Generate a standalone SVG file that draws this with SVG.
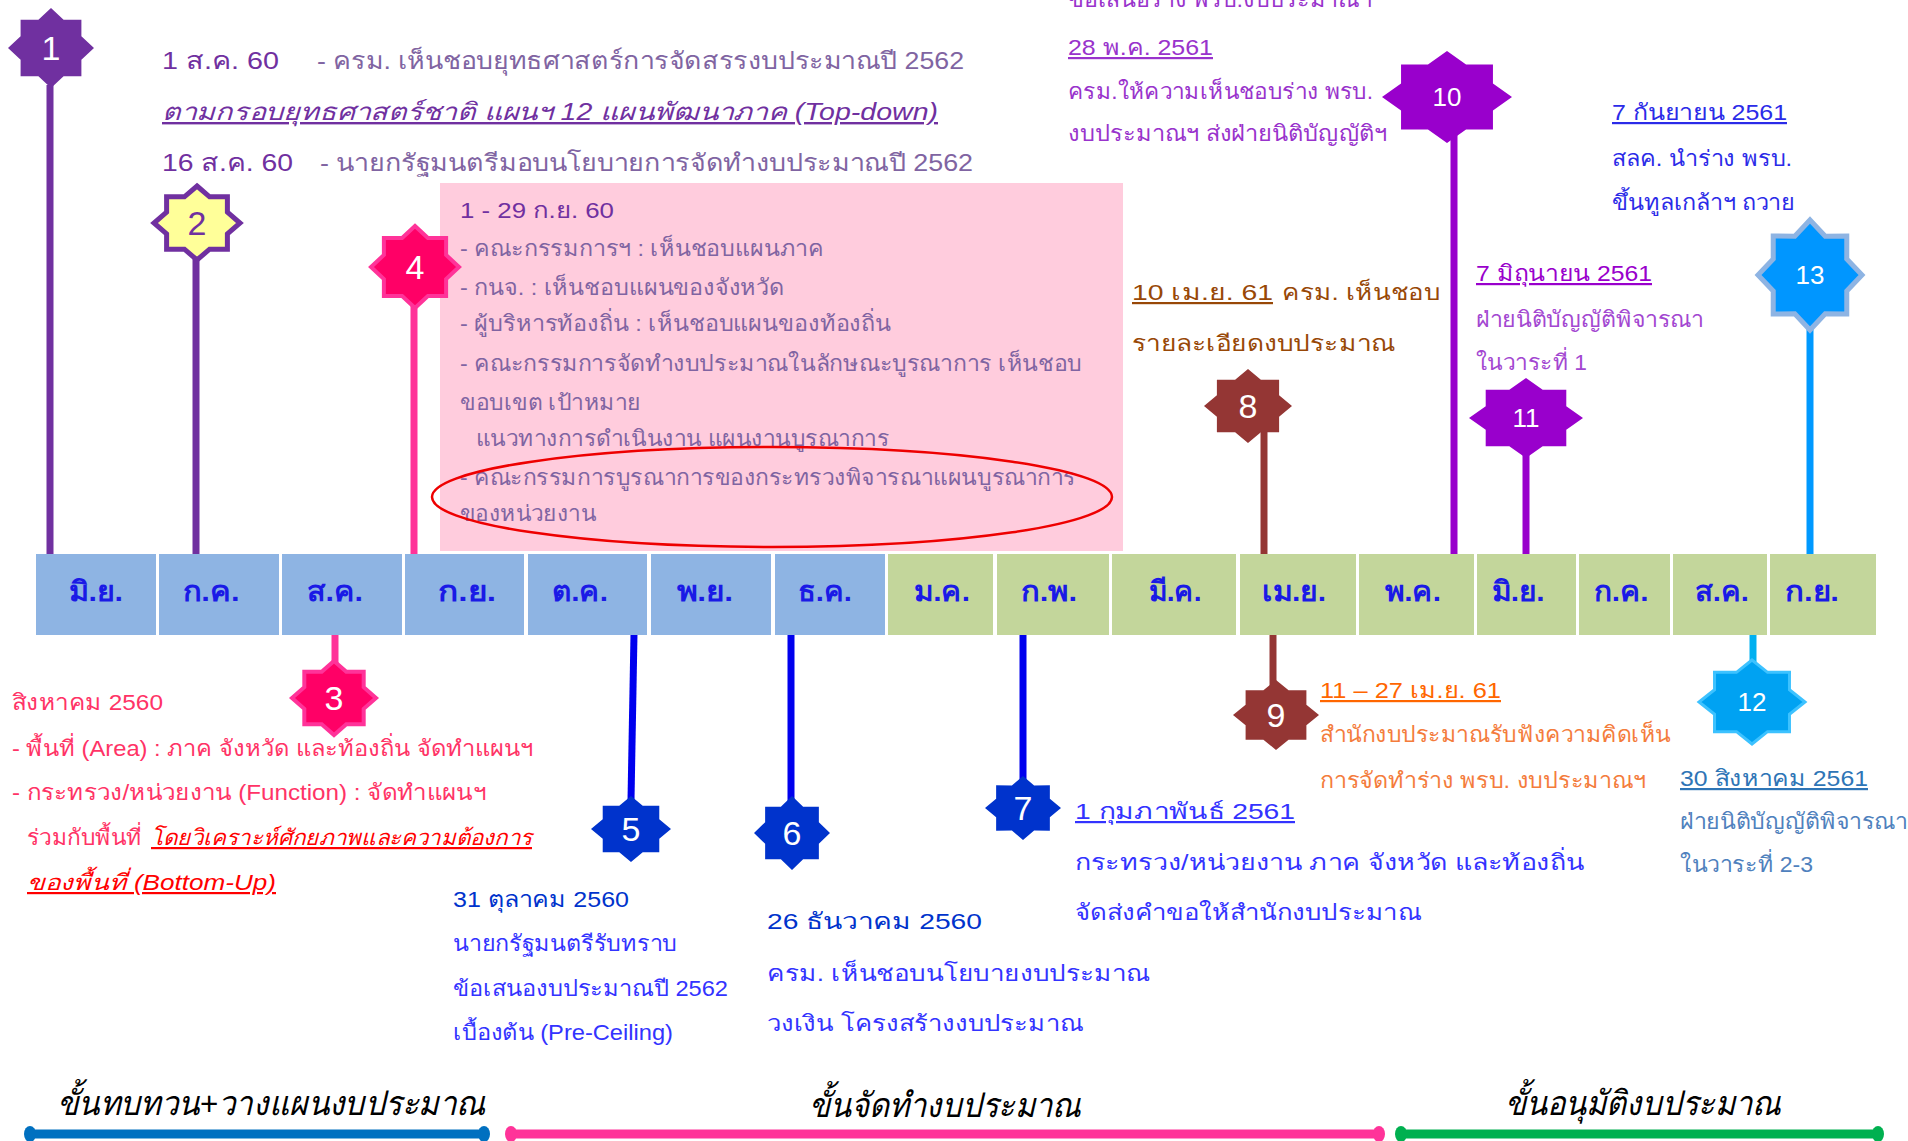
<svg xmlns="http://www.w3.org/2000/svg" xmlns:xlink="http://www.w3.org/1999/xlink" width="1908" height="1141" viewBox="0 0 1908 1141">
<style>
text{font-family:"Liberation Sans","Noto Sans",sans-serif;}
.n{font-size:34px;fill:#fff;text-anchor:middle;}
.n2{font-size:26px;fill:#fff;text-anchor:middle;}
.m{font-size:28px;font-weight:bold;fill:#1a1ae6;text-anchor:middle;}
.tb{font-size:24px;}
.pb{font-size:22px;fill:#8064a2;}
.c{font-size:22px;}
.u{text-decoration:underline;}
.ph{font-size:34px;font-style:italic;fill:#000;}
.con{stroke-width:7;fill:none;}
</style>
<defs>
<polygon id="s8" vector-effect="non-scaling-stroke" points="0,-1 0.2928,-0.7068 0.7071,-0.7071 0.7068,-0.2928 1,0 0.7068,0.2928 0.7071,0.7071 0.2928,0.7068 0,1 -0.2928,0.7068 -0.7071,0.7071 -0.7068,0.2928 -1,0 -0.7068,-0.2928 -0.7071,-0.7071 -0.2928,-0.7068"/>
</defs>
<rect width="1908" height="1141" fill="#fff"/>

<g id="box4">
<rect x="440" y="183" width="683" height="368" fill="#ffccdd"/>
<text class="pb" x="460" y="218" textLength="154" lengthAdjust="spacingAndGlyphs" fill="#7030a0" style="fill:#7030a0">1 - 29 ก.ย. 60</text>
<text class="pb" x="460" y="256" textLength="364" lengthAdjust="spacingAndGlyphs">- คณะกรรมการฯ : เห็นชอบแผนภาค</text>
<text class="pb" x="460" y="295" textLength="324" lengthAdjust="spacingAndGlyphs">- กนจ. : เห็นชอบแผนของจังหวัด</text>
<text class="pb" x="460" y="331" textLength="431" lengthAdjust="spacingAndGlyphs">- ผู้บริหารท้องถิ่น : เห็นชอบแผนของท้องถิ่น</text>
<text class="pb" x="460" y="371" textLength="622" lengthAdjust="spacingAndGlyphs">- คณะกรรมการจัดทำงบประมาณในลักษณะบูรณาการ เห็นชอบ</text>
<text class="pb" x="460" y="410" textLength="181" lengthAdjust="spacingAndGlyphs">ขอบเขต เป้าหมาย</text>
<text class="pb" x="476" y="446" textLength="413" lengthAdjust="spacingAndGlyphs">แนวทางการดำเนินงาน แผนงานบูรณาการ</text>
<text class="pb" x="460" y="485" textLength="616" lengthAdjust="spacingAndGlyphs">- คณะกรรมการบูรณาการของกระทรวงพิจารณาแผนบูรณาการ</text>
<text class="pb" x="460" y="521" textLength="136" lengthAdjust="spacingAndGlyphs">ของหน่วยงาน</text>
<ellipse cx="772" cy="497" rx="340" ry="50" fill="none" stroke="#ee0000" stroke-width="2.5"/>
</g>

<g id="connectors">
<line class="con" x1="50" y1="85" x2="50" y2="556" stroke="#7030a0"/>
<line class="con" x1="196" y1="250" x2="196" y2="556" stroke="#7030a0"/>
<line class="con" x1="414" y1="300" x2="414" y2="558" stroke="#ff3399"/>
<line class="con" x1="335" y1="633" x2="335" y2="670" stroke="#ff3399"/>
<line class="con" x1="634" y1="634" x2="631" y2="800" stroke="#0000ee" stroke-width="6"/>
<line class="con" x1="791" y1="634" x2="791" y2="805" stroke="#0000ee" stroke-width="6"/>
<line class="con" x1="1023" y1="634" x2="1023" y2="785" stroke="#0000ee" stroke-width="6"/>
<line class="con" x1="1264" y1="430" x2="1264" y2="558" stroke="#943634"/>
<line class="con" x1="1273" y1="634" x2="1273" y2="690" stroke="#943634"/>
<line class="con" x1="1454" y1="130" x2="1454" y2="556" stroke="#9900cc" stroke-width="8"/>
<line class="con" x1="1526" y1="450" x2="1526" y2="556" stroke="#9900cc"/>
<line class="con" x1="1753" y1="634" x2="1753" y2="670" stroke="#00b0f0"/>
<line class="con" x1="1810" y1="320" x2="1810" y2="556" stroke="#0099ff" stroke-width="8"/>
</g>

<g id="months">
<rect x="36" y="554" width="120" height="81" fill="#8eb4e3"/>
<rect x="159" y="554" width="120" height="81" fill="#8eb4e3"/>
<rect x="282" y="554" width="120" height="81" fill="#8eb4e3"/>
<rect x="405" y="554" width="119" height="81" fill="#8eb4e3"/>
<rect x="528" y="554" width="119" height="81" fill="#8eb4e3"/>
<rect x="651" y="554" width="120" height="81" fill="#8eb4e3"/>
<rect x="775" y="554" width="110" height="81" fill="#8eb4e3"/>
<rect x="888" y="554" width="105" height="81" fill="#c3d69b"/>
<rect x="997" y="554" width="112" height="81" fill="#c3d69b"/>
<rect x="1112" y="554" width="124" height="81" fill="#c3d69b"/>
<rect x="1240" y="554" width="116" height="81" fill="#c3d69b"/>
<rect x="1359" y="554" width="115" height="81" fill="#c3d69b"/>
<rect x="1477" y="554" width="99" height="81" fill="#c3d69b"/>
<rect x="1579" y="554" width="91" height="81" fill="#c3d69b"/>
<rect x="1673" y="554" width="94" height="81" fill="#c3d69b"/>
<rect x="1770" y="554" width="106" height="81" fill="#c3d69b"/>
<text class="m" x="96" y="601" textLength="54" lengthAdjust="spacingAndGlyphs">มิ.ย.</text>
<text class="m" x="211" y="601" textLength="57" lengthAdjust="spacingAndGlyphs">ก.ค.</text>
<text class="m" x="335" y="601" textLength="56" lengthAdjust="spacingAndGlyphs">ส.ค.</text>
<text class="m" x="467" y="601" textLength="58" lengthAdjust="spacingAndGlyphs">ก.ย.</text>
<text class="m" x="580" y="601" textLength="56" lengthAdjust="spacingAndGlyphs">ต.ค.</text>
<text class="m" x="705" y="601" textLength="56" lengthAdjust="spacingAndGlyphs">พ.ย.</text>
<text class="m" x="825" y="601" textLength="54" lengthAdjust="spacingAndGlyphs">ธ.ค.</text>
<text class="m" x="942" y="601" textLength="56" lengthAdjust="spacingAndGlyphs">ม.ค.</text>
<text class="m" x="1049" y="601" textLength="56" lengthAdjust="spacingAndGlyphs">ก.พ.</text>
<text class="m" x="1175" y="601" textLength="53" lengthAdjust="spacingAndGlyphs">มี.ค.</text>
<text class="m" x="1294" y="601" textLength="64" lengthAdjust="spacingAndGlyphs">เม.ย.</text>
<text class="m" x="1413" y="601" textLength="56" lengthAdjust="spacingAndGlyphs">พ.ค.</text>
<text class="m" x="1518" y="601" textLength="53" lengthAdjust="spacingAndGlyphs">มิ.ย.</text>
<text class="m" x="1621" y="601" textLength="55" lengthAdjust="spacingAndGlyphs">ก.ค.</text>
<text class="m" x="1722" y="601" textLength="54" lengthAdjust="spacingAndGlyphs">ส.ค.</text>
<text class="m" x="1812" y="601" textLength="54" lengthAdjust="spacingAndGlyphs">ก.ย.</text>
</g>

<g id="node1">
<use xlink:href="#s8" href="#s8" transform="translate(51 48) scale(43 40)" fill="#7030a0"/>
<text class="n" x="51" y="60">1</text>
<text class="tb" x="162" y="69" textLength="117" lengthAdjust="spacingAndGlyphs" fill="#7030a0">1 ส.ค. 60</text>
<text class="tb" x="317" y="69" textLength="647" lengthAdjust="spacingAndGlyphs" fill="#8064a2">- ครม. เห็นชอบยุทธศาสตร์การจัดสรรงบประมาณปี 2562</text>
<text class="tb u" x="162" y="120" textLength="776" lengthAdjust="spacingAndGlyphs" fill="#7030a0" font-style="italic">ตามกรอบยุทธศาสตร์ชาติ แผนฯ 12 แผนพัฒนาภาค (Top-down)</text>
<text class="tb" x="162" y="171" textLength="131" lengthAdjust="spacingAndGlyphs" fill="#7030a0">16 ส.ค. 60</text>
<text class="tb" x="320" y="171" textLength="653" lengthAdjust="spacingAndGlyphs" fill="#8064a2">- นายกรัฐมนตรีมอบนโยบายการจัดทำงบประมาณปี 2562</text>
</g>

<g id="node2">
<use xlink:href="#s8" href="#s8" transform="translate(197 223) scale(43 37)" fill="#ffff99" stroke="#7030a0" stroke-width="5"/>
<text class="n" x="197" y="235" style="fill:#7030a0">2</text>
</g>

<g id="node3">
<use xlink:href="#s8" href="#s8" transform="translate(334 698) scale(42 37)" fill="#ff0066" stroke="#ff3399" stroke-width="4"/>
<text class="n" x="334" y="710">3</text>
<text class="c" x="12" y="710" textLength="151" lengthAdjust="spacingAndGlyphs" fill="#ff3366">สิงหาคม 2560</text>
<text class="c" x="12" y="756" textLength="521" lengthAdjust="spacingAndGlyphs" fill="#ff3366">- พื้นที่ (Area) : ภาค จังหวัด และท้องถิ่น จัดทำแผนฯ</text>
<text class="c" x="12" y="800" textLength="474" lengthAdjust="spacingAndGlyphs" fill="#ff3366">- กระทรวง/หน่วยงาน (Function) : จัดทำแผนฯ</text>
<text class="c" x="27" y="845" textLength="115" lengthAdjust="spacingAndGlyphs" fill="#ff3366">ร่วมกับพื้นที่</text>
<text class="c u" x="151" y="845" textLength="381" lengthAdjust="spacingAndGlyphs" fill="#ff0000" font-style="italic">โดยวิเคราะห์ศักยภาพและความต้องการ</text>
<text class="c u" x="27" y="890" textLength="249" lengthAdjust="spacingAndGlyphs" fill="#ff0000" font-style="italic">ของพื้นที่ (Bottom-Up)</text>
</g>

<g id="node4">
<use xlink:href="#s8" href="#s8" transform="translate(415 267) scale(44 41)" fill="#ff0066" stroke="#ff3399" stroke-width="4"/>
<text class="n" x="415" y="279">4</text>
</g>

<g id="node5">
<use xlink:href="#s8" href="#s8" transform="translate(631 829) scale(40 33)" fill="#0033cc"/>
<text class="n" x="631" y="841">5</text>
<text class="c" x="453" y="907" textLength="176" lengthAdjust="spacingAndGlyphs" fill="#0033cc">31 ตุลาคม 2560</text>
<text class="c" x="453" y="951" textLength="224" lengthAdjust="spacingAndGlyphs" fill="#3333ff">นายกรัฐมนตรีรับทราบ</text>
<text class="c" x="453" y="996" textLength="275" lengthAdjust="spacingAndGlyphs" fill="#3333ff">ข้อเสนองบประมาณปี 2562</text>
<text class="c" x="453" y="1040" textLength="220" lengthAdjust="spacingAndGlyphs" fill="#3333ff">เบื้องต้น (Pre-Ceiling)</text>
</g>

<g id="node6">
<use xlink:href="#s8" href="#s8" transform="translate(792 833) scale(38 37)" fill="#0033cc"/>
<text class="n" x="792" y="845">6</text>
<text class="c" x="767" y="929" textLength="215" lengthAdjust="spacingAndGlyphs" fill="#0033cc">26 ธันวาคม 2560</text>
<text class="c" x="767" y="981" textLength="383" lengthAdjust="spacingAndGlyphs" fill="#3333ff">ครม. เห็นชอบนโยบายงบประมาณ</text>
<text class="c" x="767" y="1031" textLength="316" lengthAdjust="spacingAndGlyphs" fill="#3333ff">วงเงิน โครงสร้างงบประมาณ</text>
</g>

<g id="node7">
<use xlink:href="#s8" href="#s8" transform="translate(1023 808) scale(38 32)" fill="#0033cc"/>
<text class="n" x="1023" y="820">7</text>
<text class="c u" x="1075" y="819" textLength="220" lengthAdjust="spacingAndGlyphs" fill="#3333ff">1 กุมภาพันธ์ 2561</text>
<text class="c" x="1075" y="870" textLength="509" lengthAdjust="spacingAndGlyphs" fill="#3333ff">กระทรวง/หน่วยงาน ภาค จังหวัด และท้องถิ่น</text>
<text class="c" x="1075" y="920" textLength="346" lengthAdjust="spacingAndGlyphs" fill="#3333ff">จัดส่งคำขอให้สำนักงบประมาณ</text>
</g>

<g id="node8">
<use xlink:href="#s8" href="#s8" transform="translate(1248 406) scale(44 37)" fill="#943634"/>
<text class="n" x="1248" y="418">8</text>
<text class="c u" x="1132" y="300" textLength="141" lengthAdjust="spacingAndGlyphs" fill="#984807">10 เม.ย. 61</text>
<text class="c" x="1282" y="300" textLength="158" lengthAdjust="spacingAndGlyphs" fill="#984807">ครม. เห็นชอบ</text>
<text class="c" x="1132" y="351" textLength="263" lengthAdjust="spacingAndGlyphs" fill="#984807">รายละเอียดงบประมาณ</text>
</g>

<g id="node9">
<use xlink:href="#s8" href="#s8" transform="translate(1276 715) scale(43 35)" fill="#943634"/>
<text class="n" x="1276" y="727">9</text>
<text class="c u" x="1320" y="698" textLength="181" lengthAdjust="spacingAndGlyphs" fill="#ff6600">11 – 27 เม.ย. 61</text>
<text class="c" x="1320" y="742" textLength="351" lengthAdjust="spacingAndGlyphs" fill="#f47c3c">สำนักงบประมาณรับฟังความคิดเห็น</text>
<text class="c" x="1320" y="788" textLength="326" lengthAdjust="spacingAndGlyphs" fill="#f47c3c">การจัดทำร่าง พรบ. งบประมาณฯ</text>
</g>

<g id="node10">
<use xlink:href="#s8" href="#s8" transform="translate(1447 97) scale(65 46)" fill="#9900cc"/>
<text class="n2" x="1447" y="106">10</text>
<text class="c" x="1068" y="7" textLength="304" lengthAdjust="spacingAndGlyphs" fill="#9933cc">ข้อเสนอร่าง พรบ.งบประมาณฯ</text>
<text class="c u" x="1068" y="55" textLength="145" lengthAdjust="spacingAndGlyphs" fill="#9933cc">28 พ.ค. 2561</text>
<text class="c" x="1068" y="99" textLength="305" lengthAdjust="spacingAndGlyphs" fill="#9933cc">ครม.ให้ความเห็นชอบร่าง พรบ.</text>
<text class="c" x="1068" y="141" textLength="319" lengthAdjust="spacingAndGlyphs" fill="#9933cc">งบประมาณฯ ส่งฝ่ายนิติบัญญัติฯ</text>
</g>

<g id="node11">
<use xlink:href="#s8" href="#s8" transform="translate(1526 418) scale(57 40)" fill="#9900cc"/>
<text class="n2" x="1526" y="427">11</text>
<text class="c u" x="1476" y="281" textLength="176" lengthAdjust="spacingAndGlyphs" fill="#9900cc">7 มิถุนายน 2561</text>
<text class="c" x="1476" y="327" textLength="228" lengthAdjust="spacingAndGlyphs" fill="#a347d1">ฝ่ายนิติบัญญัติพิจารณา</text>
<text class="c" x="1476" y="370" textLength="111" lengthAdjust="spacingAndGlyphs" fill="#a347d1">ในวาระที่ 1</text>
</g>

<g id="node12">
<use xlink:href="#s8" href="#s8" transform="translate(1752 702) scale(53 42)" fill="#00a2f2" stroke="#3dc2ff" stroke-width="3"/>
<text class="n2" x="1752" y="711">12</text>
<text class="c u" x="1680" y="786" textLength="188" lengthAdjust="spacingAndGlyphs" fill="#2e75b6">30 สิงหาคม 2561</text>
<text class="c" x="1680" y="829" textLength="228" lengthAdjust="spacingAndGlyphs" fill="#4f81bd">ฝ่ายนิติบัญญัติพิจารณา</text>
<text class="c" x="1680" y="872" textLength="133" lengthAdjust="spacingAndGlyphs" fill="#4f81bd">ในวาระที่ 2-3</text>
</g>

<g id="node13">
<use xlink:href="#s8" href="#s8" transform="translate(1810 275) scale(52 55)" fill="#0096ff" stroke="#8eb4e3" stroke-width="5"/>
<text class="n2" x="1810" y="284">13</text>
<text class="c u" x="1612" y="120" textLength="175" lengthAdjust="spacingAndGlyphs" fill="#2b2be8">7 กันยายน 2561</text>
<text class="c" x="1612" y="166" textLength="180" lengthAdjust="spacingAndGlyphs" fill="#2b2be8">สลค. นำร่าง พรบ.</text>
<text class="c" x="1612" y="210" textLength="183" lengthAdjust="spacingAndGlyphs" fill="#2b2be8">ขึ้นทูลเกล้าฯ ถวาย</text>
</g>

<g id="phases">
<line x1="30" y1="1134" x2="484" y2="1134" stroke="#0070c0" stroke-width="9"/>
<ellipse cx="30" cy="1134" rx="6" ry="8" fill="#0070c0"/>
<ellipse cx="484" cy="1134" rx="6" ry="8" fill="#0070c0"/>
<line x1="511" y1="1134" x2="1379" y2="1134" stroke="#ff3399" stroke-width="9"/>
<ellipse cx="511" cy="1134" rx="6" ry="8" fill="#ff3399"/>
<ellipse cx="1379" cy="1134" rx="6" ry="8" fill="#ff3399"/>
<line x1="1401" y1="1134" x2="1878" y2="1134" stroke="#00b050" stroke-width="9"/>
<ellipse cx="1401" cy="1134" rx="6" ry="8" fill="#00b050"/>
<ellipse cx="1878" cy="1134" rx="6" ry="8" fill="#00b050"/>
<text class="ph" x="57" y="1115" textLength="429" lengthAdjust="spacingAndGlyphs">ขั้นทบทวน+วางแผนงบประมาณ</text>
<text class="ph" x="809" y="1117" textLength="272" lengthAdjust="spacingAndGlyphs">ขั้นจัดทำงบประมาณ</text>
<text class="ph" x="1505" y="1115" textLength="276" lengthAdjust="spacingAndGlyphs">ขั้นอนุมัติงบประมาณ</text>
</g>
</svg>
